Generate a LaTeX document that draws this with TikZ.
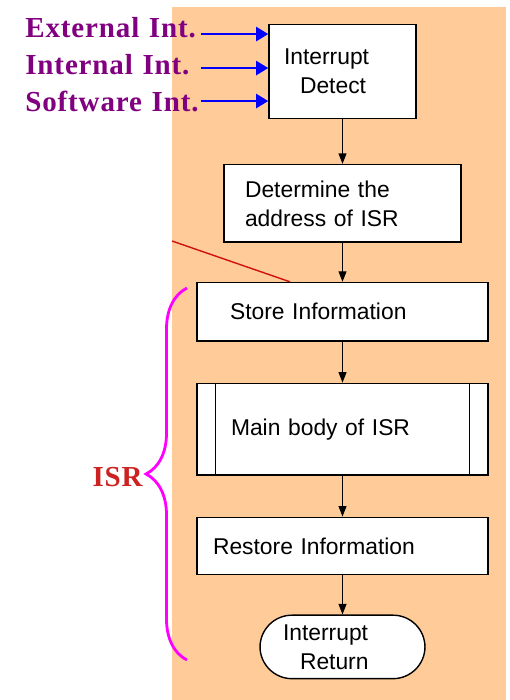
\documentclass[tikz,border=0pt]{standalone}
\usepackage{fontspec}
\setmainfont{Liberation Sans}
\newfontfamily\labelfont[LetterSpace=3]{Liberation Serif}
\usetikzlibrary{arrows.meta,positioning,decorations.pathreplacing}
\definecolor{isrBg}{HTML}{FFCC99}
\definecolor{srcPurple}{HTML}{800080}
\definecolor{isrRed}{HTML}{CC2222}
\definecolor{strokeRed}{HTML}{D01010}
\definecolor{braceMagenta}{HTML}{FF00FF}
\definecolor{flowBlue}{HTML}{0000FF}

\begin{document}
\begin{tikzpicture}[x=0.02cm,y=-0.02cm,
    every node/.style={font=\fontsize{13}{16.5}\selectfont},
    stepbox/.style={draw,fill=white,line width=0.8pt,align=left,inner ysep=0pt},
    srclabel/.style={font=\labelfont\bfseries\fontsize{16.5}{18}\selectfont,text=srcPurple,
      anchor=base west,inner xsep=0pt,text width=3.5cm,align=left},
    flow/.style={line width=0.7pt,-{Triangle[length=6pt,width=4.5pt]}},
    intarrow/.style={flowBlue,line width=1.6pt,-{Triangle[length=7pt,width=8pt]}}]
      \useasboundingbox (0,0) rectangle (510,700);
      \fill[isrBg] (172,7) rectangle (506,700);

      % flow chart
      \node[stepbox,minimum height=1.87cm,text width=2.34cm,inner xsep=0.3cm] (detect) at (342.5,71.5) {Interrupt\\\hspace*{0.32cm}Detect};
      \node[stepbox,below=0.9cm of detect,minimum height=1.55cm,text width=3.9cm,inner xsep=0.42cm] (addr) {Determine the\\address of ISR};
      \node[stepbox,below=0.78cm of addr,minimum height=1.17cm,text width=4.5cm,inner xsep=0.66cm] (store) {Store Information};
      \node[stepbox,below=0.82cm of store,minimum height=1.83cm,text width=4.46cm,inner xsep=0.68cm] (body) {Main body of ISR};
      \node[stepbox,below=0.82cm of body,minimum height=1.15cm,text width=5.18cm,inner xsep=0.32cm] (restore) {Restore Information};
      \node[stepbox,below=0.78cm of restore,rounded corners=0.64cm,minimum height=1.27cm,text width=2.38cm,inner xsep=0.46cm] (ret) {Interrupt\\\hspace*{0.34cm}Return};
      \draw[line width=0.8pt] ([xshift=0.38cm]body.north west) -- ([xshift=0.38cm]body.south west)
        ([xshift=-0.38cm]body.north east) -- ([xshift=-0.38cm]body.south east);
      \foreach \a/\b in {detect/addr,addr/store,store/body,body/restore,restore/ret}
        \draw[flow] (\a.south) -- (\b.north);

      % interrupt sources
      \node[srclabel] (ext) at (25,37) {External Int.};
      \node[srclabel] (int) at (25,74) {Internal Int.};
      \node[srclabel] (soft) at (25,111) {Software Int.};
      \coordinate (in1) at ([yshift=-0.2cm]detect.north west);
      \coordinate (in2) at ([yshift=-0.88cm]detect.north west);
      \coordinate (in3) at ([yshift=-1.54cm]detect.north west);
      \foreach \s/\t in {ext/in1,int/in2,soft/in3}
        \draw[intarrow] (\s.east |- \t) -- (\t);

      % ISR brace
      \draw[strokeRed,line width=0.8pt] (172,241) -- (store.north -| 290,0);
      \draw[braceMagenta,line width=1.6pt,decorate,decoration={brace,amplitude=0.82cm}] (187,660) -- (187,288);
      \node[font=\labelfont\bfseries\fontsize{16.5}{18}\selectfont,text=isrRed,anchor=east,inner sep=0pt] (isr) at (143,477) {ISR};
\end{tikzpicture}
\end{document}
